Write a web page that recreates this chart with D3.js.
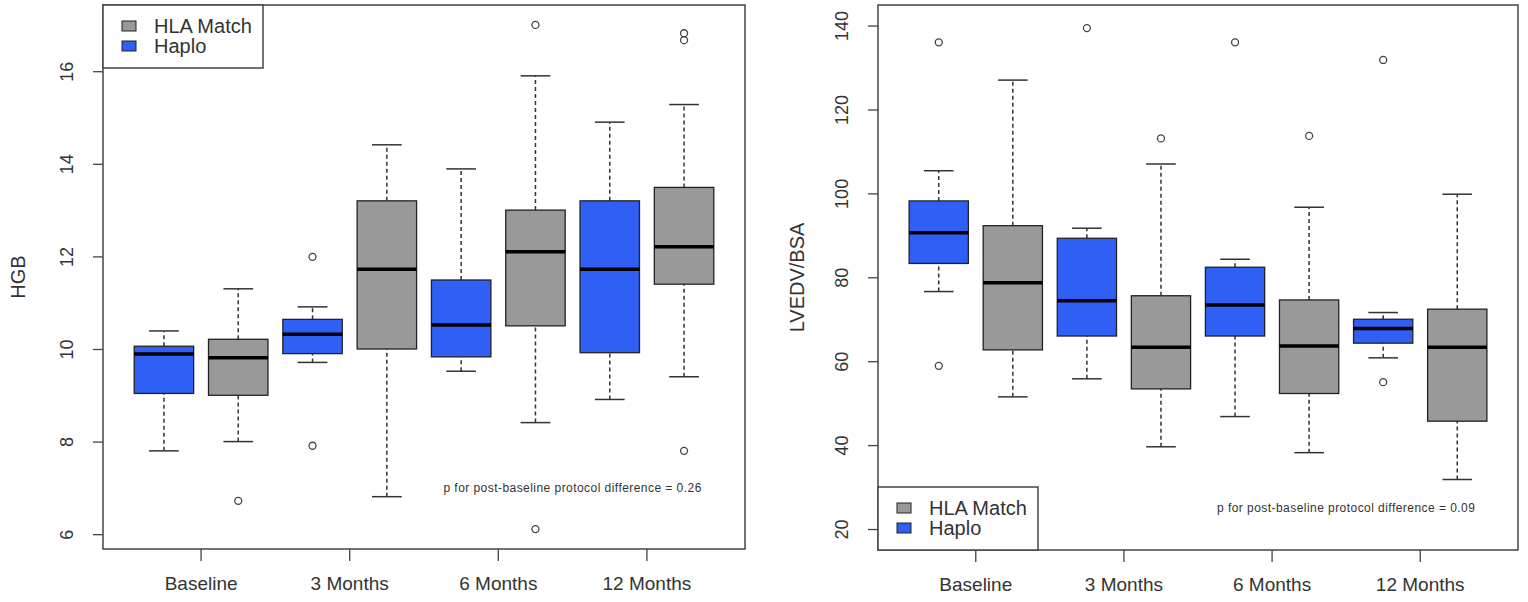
<!DOCTYPE html>
<html>
  <head>
    <title>HGB and LVEDV/BSA box plots</title>
    <style>
      body {
        margin: 0px;
        overflow: hidden;
        background: #fff;
      }
      text { font-family: "Liberation Sans", Arial, sans-serif; fill: #333; }
    </style>
    <script src="https://d3js.org/d3.v7.min.js"></script>
  </head>
  <body>
    <svg width="1528" height="602"></svg>
    <script>
      // categories
      const timepoints = ['Baseline', '3 Months', '6 Months', '12 Months'];
      const protocols = ['Haplo', 'HLA Match'];
      const legendOrder = ['HLA Match', 'Haplo'];

      // HGB: [lower whisker, Q1, median, Q3, upper whisker] per timepoint
      const hgbTicks = [6, 8, 10, 12, 14, 16];
      const hgbHaplo = [[7.8, 9.04, 9.89, 10.06, 10.39], [9.71, 9.9, 10.32, 10.64, 10.91],
                        [9.52, 9.83, 10.52, 11.49, 13.89], [8.91, 9.92, 11.72, 13.2, 14.9]];
      const hgbHaploOut = [[], [11.99, 7.91], [], []];
      const hgbHla = [[8.0, 9.0, 9.81, 10.21, 11.3], [6.81, 10.0, 11.72, 13.2, 14.41],
                      [8.41, 10.5, 12.1, 13.0, 15.9], [9.4, 11.4, 12.21, 13.49, 15.28]];
      const hgbHlaOut = [[6.72], [], [17.0, 6.11], [16.82, 16.67, 7.8]];

      // LVEDV/BSA
      const lvTicks = [20, 40, 60, 80, 100, 120, 140];
      const lvHaplo = [[76.6, 83.3, 90.6, 98.2, 105.4], [55.8, 66.0, 74.4, 89.3, 91.7],
                       [46.8, 66.0, 73.4, 82.4, 84.3], [60.8, 64.3, 67.8, 70.0, 71.6]];
      const lvHaploOut = [[136.0, 58.9], [139.4], [136.0], [131.8, 55.0]];
      const lvHla = [[51.5, 62.7, 78.7, 92.3, 127.0], [39.6, 53.4, 63.3, 75.6, 107.0],
                     [38.2, 52.3, 63.6, 74.6, 96.7], [31.8, 45.7, 63.3, 72.4, 99.8]];
      const lvHlaOut = [[], [113.1], [113.7], []];

      const colors = { 'Haplo': '#2f5ff5', 'HLA Match': '#999999' };

      const svg = d3.select('svg');

      const drawPanel = cfg => {
        const x = d3.scaleBand()
          .domain(timepoints)
          .range([cfg.left, cfg.right])
          .paddingInner(0)
          .paddingOuter(0.16);
        const xSub = d3.scaleBand()
          .domain(protocols)
          .range([0, x.bandwidth()])
          .paddingInner(0.2)
          .paddingOuter(0.1);
        const y = d3.scaleLinear()
          .domain(cfg.yDomain)
          .range([cfg.bottom, cfg.top]);

        const g = svg.append('g');

        // boxes
        const boxes = [];
        protocols.forEach(p => {
          cfg.stats[p].forEach((s, i) => {
            boxes.push({ p, t: timepoints[i], s, out: cfg.outliers[p][i] });
          });
        });

        const bw = xSub.bandwidth();
        const bg = g.selectAll('g.box').data(boxes).enter().append('g')
          .attr('class', 'box')
          .attr('transform', d => `translate(${x(d.t) + xSub(d.p)},0)`);

        // whiskers (dashed)
        bg.append('line')
          .attr('x1', bw / 2).attr('x2', bw / 2)
          .attr('y1', d => y(d.s[0])).attr('y2', d => y(d.s[1]))
          .attr('stroke', '#333').attr('stroke-width', 1.5)
          .attr('stroke-dasharray', '4,3');
        bg.append('line')
          .attr('x1', bw / 2).attr('x2', bw / 2)
          .attr('y1', d => y(d.s[3])).attr('y2', d => y(d.s[4]))
          .attr('stroke', '#333').attr('stroke-width', 1.5)
          .attr('stroke-dasharray', '4,3');
        // staples
        [0, 4].forEach(k => {
          bg.append('line')
            .attr('x1', bw / 4).attr('x2', bw * 3 / 4)
            .attr('y1', d => y(d.s[k])).attr('y2', d => y(d.s[k]))
            .attr('stroke', '#333').attr('stroke-width', 1.5);
        });
        bg.append('rect')
          .attr('x', 0).attr('width', bw)
          .attr('y', d => y(d.s[3]))
          .attr('height', d => y(d.s[1]) - y(d.s[3]))
          .attr('fill', d => colors[d.p])
          .attr('stroke', '#222').attr('stroke-width', 1.3);
        bg.append('line')
          .attr('x1', 0).attr('x2', bw)
          .attr('y1', d => y(d.s[2])).attr('y2', d => y(d.s[2]))
          .attr('stroke', '#000').attr('stroke-width', 3.5);
        bg.selectAll('circle').data(d => d.out).enter().append('circle')
          .attr('cx', bw / 2).attr('cy', v => y(v)).attr('r', 3.5)
          .attr('fill', 'none').attr('stroke', '#444').attr('stroke-width', 1.3);

        // frame
        g.append('rect')
          .attr('x', cfg.left).attr('y', cfg.top)
          .attr('width', cfg.right - cfg.left).attr('height', cfg.bottom - cfg.top)
          .attr('fill', 'none').attr('stroke', '#444').attr('stroke-width', 1.5);

        // axes
        const yAxis = g.append('g')
          .attr('transform', `translate(${cfg.left},0)`)
          .call(d3.axisLeft(y).tickValues(cfg.ticks).tickSize(10).tickSizeOuter(0));
        yAxis.select('.domain').remove();
        yAxis.selectAll('line').attr('stroke', '#444').attr('stroke-width', 1.3);
        yAxis.selectAll('text')
          .attr('transform', 'rotate(-90)')
          .attr('x', 0).attr('y', -36).attr('dy', '0.35em')
          .attr('text-anchor', 'middle')
          .style('font-size', '18px').attr('fill', '#333');

        const xAxis = g.append('g')
          .attr('transform', `translate(0,${cfg.bottom})`)
          .call(d3.axisBottom(x).tickSize(12).tickPadding(16).tickSizeOuter(0));
        xAxis.select('.domain').remove();
        xAxis.selectAll('line').attr('stroke', '#444').attr('stroke-width', 1.3);
        xAxis.selectAll('text').style('font-size', '19px').attr('fill', '#333');

        // y label
        g.append('text')
          .attr('transform', `translate(${cfg.labelX},${(cfg.top + cfg.bottom) / 2}) rotate(-90)`)
          .attr('text-anchor', 'middle')
          .attr('dy', '0.35em')
          .style('font-size', '20px')
          .text(cfg.yLabel);

        // p-value note, centred between 6 and 12 Months
        const noteX = (x('6 Months') + x('12 Months')) / 2 + x.bandwidth() / 2;
        g.append('text')
          .attr('x', noteX).attr('y', y(cfg.noteY))
          .attr('dy', '0.35em')
          .attr('text-anchor', 'middle')
          .style('font-size', '12px')
          .style('letter-spacing', '0.45px')
          .text(cfg.note);

        // legend
        const lg = g.append('g')
          .attr('transform', `translate(${cfg.left},${cfg.legendTop ? cfg.top : cfg.bottom - 63})`);
        lg.append('rect')
          .attr('width', 160).attr('height', 63)
          .attr('fill', '#fff').attr('stroke', '#444').attr('stroke-width', 1.5);
        const items = lg.selectAll('g.item').data(legendOrder).enter().append('g')
          .attr('class', 'item')
          .attr('transform', (d, i) => `translate(19,${21 + i * 20})`);
        items.append('rect')
          .attr('y', -5).attr('width', 14).attr('height', 10)
          .attr('fill', d => colors[d]).attr('stroke', '#222').attr('stroke-width', 1);
        items.append('text')
          .attr('x', 32).attr('dy', '0.35em')
          .style('font-size', '20px')
          .text(d => d);
      };

      drawPanel({
        left: 103, right: 745, top: 5, bottom: 549,
        yDomain: [5.68, 17.43], ticks: hgbTicks,
        stats: { 'Haplo': hgbHaplo, 'HLA Match': hgbHla },
        outliers: { 'Haplo': hgbHaploOut, 'HLA Match': hgbHlaOut },
        yLabel: 'HGB', labelX: 18,
        note: 'p for post-baseline protocol difference = 0.26', noteY: 7.0,
        legendTop: true
      });

      drawPanel({
        left: 878, right: 1518, top: 5, bottom: 550,
        yDomain: [15.0, 144.9], ticks: lvTicks,
        stats: { 'Haplo': lvHaplo, 'HLA Match': lvHla },
        outliers: { 'Haplo': lvHaploOut, 'HLA Match': lvHlaOut },
        yLabel: 'LVEDV/BSA', labelX: 797,
        note: 'p for post-baseline protocol difference = 0.09', noteY: 25,
        legendTop: false
      });
    </script>
  </body>
</html>
